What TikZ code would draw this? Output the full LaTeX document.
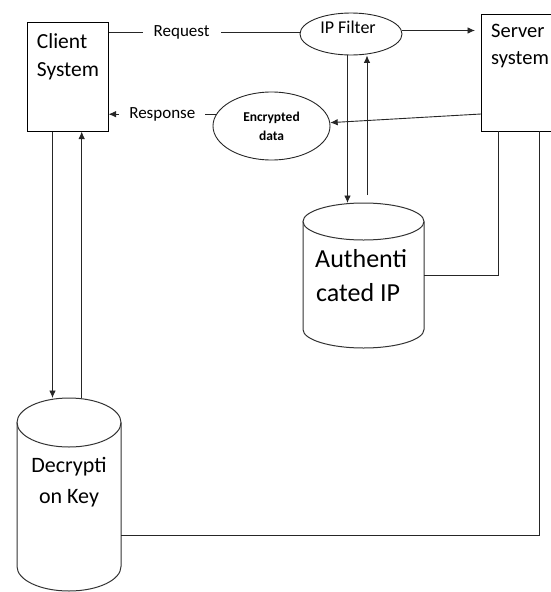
\documentclass[tikz,border=0pt]{standalone}
\usepackage{fontspec}
\setmainfont{Carlito}
\usetikzlibrary{arrows.meta,shapes.geometric}

\tikzset{
  line/.style={draw=black!85, line width=0.9pt},
  arr/.style={line, -{Latex[length=7.5pt,width=6.5pt]}},
  box/.style={draw=black, line width=1pt, inner sep=0pt},
  oval/.style={ellipse, draw=black!85, line width=0.9pt, inner sep=0pt},
  slot/.style={inner sep=0pt, outer sep=0pt},
  drum/.style={draw=black!80, line width=1pt},
  tag/.style={fill=white, inner ysep=1pt, font=\fontsize{17}{20}\selectfont},
  txt/.style={inner sep=0pt},
}

% outline of a database drum inside the frame of node #1
% #2 = half width, #3 = vertical radius of the end ellipses
\newcommand\drumoutline[3]{%
  \draw[drum] ([yshift=-#3pt]#1.north) ellipse [x radius=#2, y radius=#3];
  \draw[drum] ([yshift=-#3pt]#1.north west) -- ([yshift=#3pt]#1.south west)
    arc [start angle=180, end angle=360, x radius=#2, y radius=#3]
    -- ([yshift=-#3pt]#1.north east);
}

\begin{document}
\begin{tikzpicture}[x=1pt, y=1pt]
\useasboundingbox (0,0) rectangle (550,-592);

% ---- blocks ----
\node[box, minimum width=81pt, minimum height=109pt] (client) at (67.5,-76.5) {};
\node[txt, anchor=base west, font=\fontsize{21.5}{24}\selectfont] (clientA) at (36.7,-48) {Client};
\node[txt, anchor=base west, font=\fontsize{21.5}{24}\selectfont] (clientB) at (36.7,-76) {System};

\node[slot, minimum width=70pt, minimum height=117pt] (server) at (516,-72.5) {};
\draw[box] (server.north east) -- (server.north west) -- (server.south west) -- (server.south east);
\node[txt, anchor=base west, font=\fontsize{20.5}{24}\selectfont] (serverA) at (491,-37.7) {Server};
\node[txt, anchor=base west, font=\fontsize{20.5}{24}\selectfont] (serverB) at (491,-64.3) {system};

\node[oval, minimum width=102pt, minimum height=42pt] (ipf) at (351,-34) {};
\node[txt, anchor=base, font=\fontsize{18}{22}\selectfont] (ipfA) at (348,-33.3) {IP Filter};

\node[oval, minimum width=117pt, minimum height=68pt, align=center,
      font=\fontsize{13.5}{19}\selectfont\bfseries] (enc) at (271.5,-126) {Encrypted\\data};

% ---- data stores ----
\node[slot, minimum width=121pt, minimum height=145pt] (auth) at (363.5,-275.5) {};
\drumoutline{auth}{60.5}{18.5}
\node[txt, anchor=base west, font=\fontsize{26}{30}\selectfont] (authA) at (315,-267.3) {Authenti};
\node[txt, anchor=base west, font=\fontsize{26}{30}\selectfont] (authB) at (316,-301.7) {cated IP};

\node[slot, minimum width=104pt, minimum height=193pt] (dec) at (69,-494.5) {};
\drumoutline{dec}{52}{24.5}
\node[txt, anchor=base, font=\fontsize{22}{26}\selectfont] (decA) at (69,-472.3) {Decrypti};
\node[txt, anchor=base, font=\fontsize{22}{26}\selectfont] (decB) at (69,-503.3) {on Key};

% ---- connectors ----
\coordinate (rq) at (0,-32);
\draw[line] (client.east |- rq) -- node[tag, pos=0.383, inner xsep=11pt] {Request} (ipf.west |- rq);

\coordinate (sv) at (0,-30.5);
\draw[arr, shorten >=6pt] (ipf.east |- sv) -- (server.west |- sv);

\coordinate (lv) at (0,-114);
\draw[arr] (server.west |- lv) -- (enc);
\draw[arr] (enc.168) -- node[tag, inner xsep=10pt] {Response} (enc.168 -| client.east);

\coordinate (a1) at (347.5,0);
\coordinate (a2) at (367,-195);
\draw[arr] (ipf.south -| a1) -- (auth.north -| a1);
\draw[arr] (a2) -- (ipf.south -| a2);

\coordinate (s1) at (498,0);
\coordinate (s2) at (539,0);
\coordinate (lb) at (0,-535.5);
\draw[line] (server.south -| s1) |- (auth.east);
\draw[line] (server.south -| s2) |- (dec.east |- lb);

\coordinate (d1) at (52.5,0);
\coordinate (d2) at (81.7,0);
\draw[arr] (client.south -| d1) -- (dec.north -| d1);
\draw[arr] (dec.north -| d2) -- (client.south -| d2);
\end{tikzpicture}
\end{document}
